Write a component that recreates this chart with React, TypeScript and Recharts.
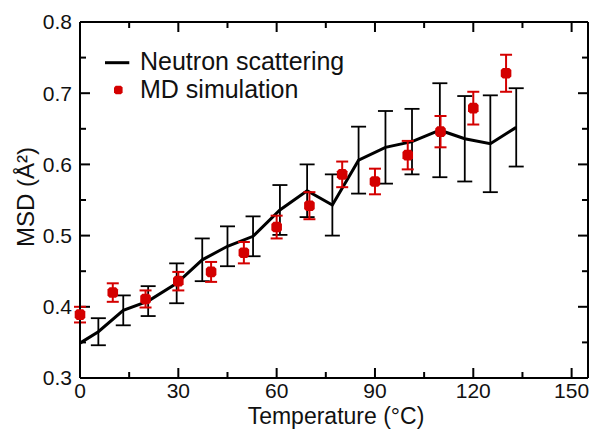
import React from 'react';
import { ComposedChart, Line, Scatter, XAxis, YAxis, ErrorBar, Legend, ReferenceLine } from 'recharts';

const neutronT = [0, 5.6, 13.2, 20.8, 29.5, 37.3, 45, 52.8, 61, 69.3, 77, 85, 93.2, 101.3, 109.8, 117.4, 125.2, 133.1];
const neutronV = [0.349, 0.365, 0.395, 0.408, 0.433, 0.466, 0.485, 0.499, 0.536, 0.563, 0.543, 0.606, 0.624, 0.632, 0.648, 0.636, 0.629, 0.652];
const neutronErr = [null, 0.019, 0.021, 0.021, 0.028, 0.03, 0.028, 0.028, 0.035, 0.037, 0.043, 0.047, 0.051, 0.046, 0.066, 0.06, 0.068, 0.055];

const mdT = [0, 10, 20, 30, 40, 50, 60, 70, 80, 90, 100, 110, 120, 130];
const mdV = [0.389, 0.42, 0.411, 0.436, 0.449, 0.476, 0.512, 0.542, 0.586, 0.576, 0.613, 0.646, 0.679, 0.728];
const mdErr = [0.011, 0.013, 0.012, 0.013, 0.014, 0.015, 0.016, 0.019, 0.018, 0.018, 0.02, 0.022, 0.023, 0.026];

const xMajorTicks = [0, 30, 60, 90, 120, 150];
const xMinorTicks = [15, 45, 75, 105, 135];
const yMajorTicks = [0.3, 0.4, 0.5, 0.6, 0.7, 0.8];
const yMinorTicks = [0.35, 0.45, 0.55, 0.65, 0.75];
const xDomain = [0, 155];
const yDomain = [0.3, 0.8];

const seriesNames = ['Neutron scattering', 'MD simulation'];
const xTitle = 'Temperature (°C)';
const yTitle = 'MSD (Å²)';

const neutronData = neutronT.map((t, i) => ({ t, v: neutronV[i], err: neutronErr[i] }));
const mdData = mdT.map((t, i) => ({ t, v: mdV[i], err: mdErr[i] }));

const FONT = '"Liberation Sans", Arial, Helvetica, sans-serif';
const RED = '#d40000';
const INK = '#111';

const octPath = (cx: number, cy: number, r: number) => {
  const a = r * 0.6;
  return `M${cx - a},${cy - r}L${cx + a},${cy - r}L${cx + r},${cy - a}L${cx + r},${cy + a}L${cx + a},${cy + r}L${cx - a},${cy + r}L${cx - r},${cy + a}L${cx - r},${cy - a}Z`;
};

const OctShape = (props: any) => {
  const { cx, cy } = props;
  if (cx == null || cy == null) return null;
  return <path d={octPath(cx, cy, 5.3)} fill={RED} />;
};

const LegendContent = () => (
  <svg width={260} height={70} style={{ display: 'block', overflow: 'visible' }}>
    <line x1={5} y1={22.7} x2={29.3} y2={22.7} stroke="#000" strokeWidth={3} />
    <text x={40} y={30} fontSize={25} fontFamily={FONT} fill={INK}>{seriesNames[0]}</text>
    <path d={octPath(18.3, 50, 4.3)} fill={RED} />
    <text x={40} y={58.3} fontSize={25} fontFamily={FONT} fill={INK}>{seriesNames[1]}</text>
  </svg>
);

const XTitle = (props: any) => {
  const vb = props.viewBox || {};
  return (
    <text x={vb.x + vb.width / 2 + 2} y={vb.y + 46} textAnchor="middle" fontSize={23} fontFamily={FONT} fill={INK}>
      {xTitle}
    </text>
  );
};

const YTitle = (props: any) => {
  const vb = props.viewBox || {};
  const cx = vb.x + 33.5;
  const cy = vb.y + vb.height / 2 - 3;
  return (
    <text transform={`translate(${cx},${cy}) rotate(-90)`} x={0} y={0} textAnchor="middle" fontSize={24} fontFamily={FONT} fill={INK}>
      {yTitle}
    </text>
  );
};

// inward tick marks drawn at both ends of a reference line
const vTicks = (len: number) => (p: any) => {
  const x = p.x1;
  const top = Math.min(p.y1, p.y2);
  const bot = Math.max(p.y1, p.y2);
  return (
    <g>
      <line x1={x} x2={x} y1={bot} y2={bot - len} stroke="#000" strokeWidth={2} />
      <line x1={x} x2={x} y1={top} y2={top + len} stroke="#000" strokeWidth={2} />
    </g>
  );
};
const hTicks = (len: number) => (p: any) => {
  const y = p.y1;
  const l = Math.min(p.x1, p.x2);
  const r = Math.max(p.x1, p.x2);
  return (
    <g>
      <line x1={l} x2={l + len} y1={y} y2={y} stroke="#000" strokeWidth={2} />
      <line x1={r} x2={r - len} y1={y} y2={y} stroke="#000" strokeWidth={2} />
    </g>
  );
};

const tickStyle = { fontSize: 21, fontFamily: FONT, fill: INK };

export default function App() {
  return (
    <div style={{ position: 'absolute', left: 0, top: 0, width: 595, height: 429, background: '#fff' }}>
      <ComposedChart width={595} height={429} margin={{ top: 22, right: 7, bottom: 0, left: 0 }}>
        <XAxis
          xAxisId="x"
          dataKey="t"
          type="number"
          domain={xDomain}
          ticks={xMajorTicks}
          interval={0}
          tickLine={false}
          tickSize={5}
          tickMargin={0}
          tick={tickStyle}
          axisLine={{ stroke: '#000', strokeWidth: 2 }}
          height={51}
          label={{ content: XTitle }}
        />
        <YAxis
          yAxisId="y"
          type="number"
          domain={yDomain}
          ticks={yMajorTicks}
          interval={0}
          tickLine={false}
          tickSize={6}
          tickMargin={2}
          tick={tickStyle}
          tickFormatter={(v: number) => v.toFixed(1)}
          axisLine={{ stroke: '#000', strokeWidth: 2 }}
          width={80}
          label={{ content: YTitle }}
        />

        {xMajorTicks.map((t) => (
          <ReferenceLine key={`xM${t}`} xAxisId="x" yAxisId="y" x={t} shape={vTicks(10)} />
        ))}
        {xMinorTicks.map((t) => (
          <ReferenceLine key={`xm${t}`} xAxisId="x" yAxisId="y" x={t} shape={vTicks(6)} />
        ))}
        {yMajorTicks.map((t) => (
          <ReferenceLine key={`yM${t}`} xAxisId="x" yAxisId="y" y={t} shape={hTicks(10)} />
        ))}
        {yMinorTicks.map((t) => (
          <ReferenceLine key={`ym${t}`} xAxisId="x" yAxisId="y" y={t} shape={hTicks(6)} />
        ))}
        <ReferenceLine xAxisId="x" yAxisId="y" x={xDomain[1]} stroke="#000" strokeWidth={2} />
        <ReferenceLine xAxisId="x" yAxisId="y" y={yDomain[1]} stroke="#000" strokeWidth={2} />

        <Legend
          layout="vertical"
          align="center"
          verticalAlign="middle"
          content={LegendContent}
          wrapperStyle={{ position: 'absolute', left: 100, top: 40, width: 260, height: 70 }}
        />

        <Line
          xAxisId="x"
          yAxisId="y"
          data={neutronData}
          dataKey="v"
          type="linear"
          stroke="#000"
          strokeWidth={3}
          dot={false}
          activeDot={false}
          isAnimationActive={false}
          name={seriesNames[0]}
        >
          <ErrorBar dataKey="err" direction="y" width={7.5} stroke="#000" strokeWidth={1.8} isAnimationActive={false} />
        </Line>
        <Scatter
          xAxisId="x"
          yAxisId="y"
          data={mdData}
          dataKey="v"
          fill={RED}
          shape={OctShape}
          isAnimationActive={false}
          name={seriesNames[1]}
        >
          <ErrorBar dataKey="err" direction="y" width={6} stroke={RED} strokeWidth={2} isAnimationActive={false} />
        </Scatter>
      </ComposedChart>
    </div>
  );
}
